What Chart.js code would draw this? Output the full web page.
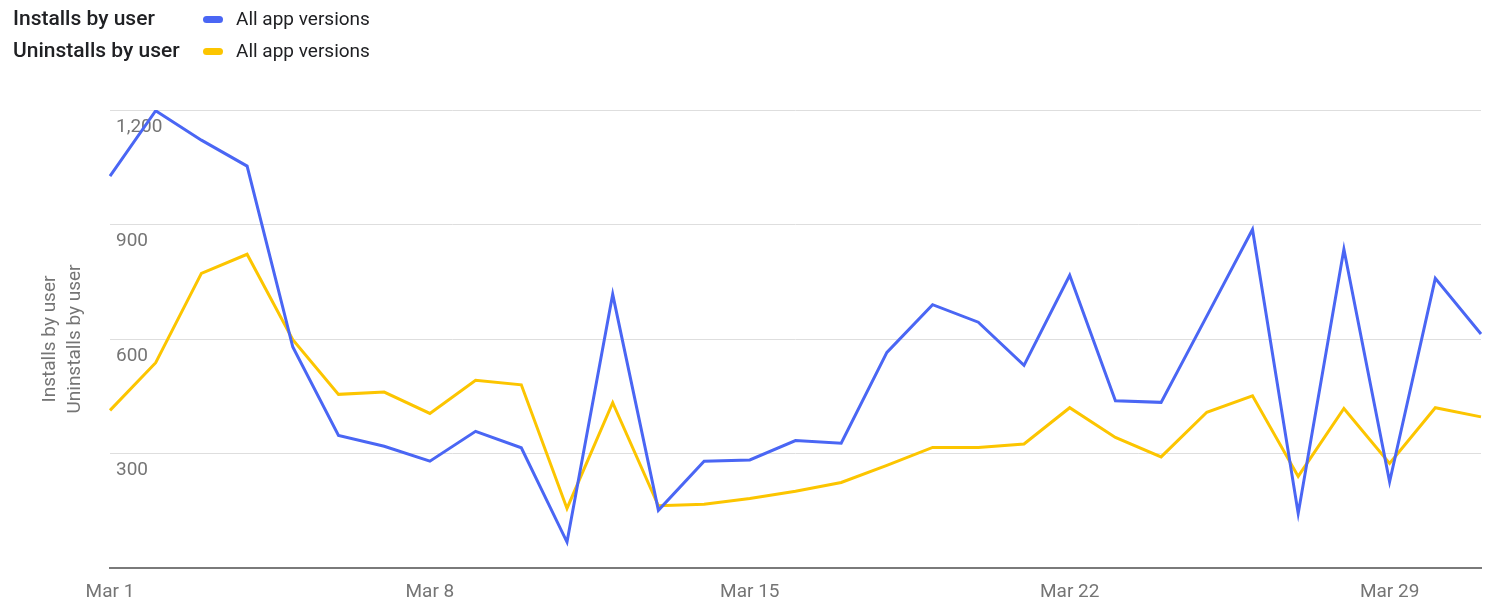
<!DOCTYPE html>
<html>
<head>
<meta charset="utf-8">
<script src="https://cdn.jsdelivr.net/npm/chart.js@4/dist/chart.umd.min.js"></script>
<style>
    html, body { margin: 0; padding: 0; background: #fff; }
    body { width: 1500px; height: 612px; position: relative; overflow: hidden; font-family: Roboto, "Noto Sans", sans-serif; }
    #wrap { position: absolute; left: 0; top: 0; width: 1500px; height: 612px; }
    .legend-row { position: absolute; left: 13px; height: 26px; line-height: 26px; white-space: nowrap; }
    .legend-row .name { display: inline-block; width: 190px; font-size: 21px; font-weight: 500; color: #202124; }
    .legend-row .pill { display: inline-block; width: 20px; height: 7px; border-radius: 4px; vertical-align: middle; margin-right: 13px; position: relative; top: -1px; }
    .legend-row .ver { font-size: 19px; color: #202124; }
</style>
</head>
<body>
<div id="wrap"><canvas id="installsChart" width="1500" height="612"></canvas></div>
<div class="legend-row" style="top:5px"><span class="name">Installs by user</span><span class="pill" style="background:#4a66f4"></span><span class="ver">All app versions</span></div>
<div class="legend-row" style="top:37px"><span class="name">Uninstalls by user</span><span class="pill" style="background:#fcc500"></span><span class="ver">All app versions</span></div>
<script>
    // dias del mes
    const dias = [];
    for (let d = 1; d <= 31; d++) dias.push('Mar ' + d);

    const installs = [1027, 1198, 1121, 1053, 579, 347, 319, 280, 358, 315,
        68, 717, 151, 280, 283, 334, 327, 565, 690, 644,
        531, 767, 438, 434, 660, 887, 143, 835, 226, 759, 613];

    const uninstalls = [413, 538, 772, 822, 598, 455, 461, 405, 492, 480,
        156, 433, 163, 167, 182, 201, 224, 269, 316, 316,
        325, 420, 342, 291, 408, 451, 240, 418, 274, 420, 396];

    const yTicks = [0, 300, 600, 900, 1200];

    const ctx = document.getElementById('installsChart').getContext('2d');
    const installsChart = new Chart(ctx, {
        type: 'line',
        data: {
            labels: dias,
            datasets: [{
                label: 'Installs by user',
                data: installs,
                borderColor: '#4a66f4',
                borderWidth: 3,
                pointRadius: 0,
                tension: 0
            }, {
                label: 'Uninstalls by user',
                data: uninstalls,
                borderColor: '#fcc500',
                borderWidth: 3,
                pointRadius: 0,
                tension: 0
            }]
        },
        options: {
            responsive: false,
            animation: false,
            layout: {
                padding: { left: 0, right: 19, top: 110, bottom: 0 }
            },
            plugins: {
                legend: { display: false },
                tooltip: { enabled: false }
            },
            scales: {
                x: {
                    offset: false,
                    afterFit: function (scale) {
                        scale.height = 44;
                    },
                    grid: { display: false, drawTicks: false },
                    border: { display: true, color: '#7a7a7a', width: 2 },
                    ticks: {
                        autoSkip: false,
                        maxRotation: 0,
                        padding: 13,
                        color: '#757575',
                        font: { family: 'Roboto', size: 19 },
                        callback: function (value, index) {
                            return index % 7 === 0 ? dias[index] : '';
                        }
                    }
                },
                y: {
                    min: yTicks[0],
                    max: yTicks[yTicks.length - 1],
                    afterFit: function (scale) {
                        scale.width = 110;
                    },
                    afterBuildTicks: function (scale) {
                        scale.ticks = yTicks.map(v => ({ value: v }));
                    },
                    grid: { color: '#dedede', lineWidth: 1, drawTicks: false },
                    border: { display: false },
                    ticks: {
                        mirror: true,
                        padding: 6,
                        labelOffset: 17,
                        color: '#757575',
                        font: { family: 'Roboto', size: 19 },
                        callback: function (value) {
                            return value === 0 ? '' : value.toLocaleString('en-US');
                        }
                    },
                    title: {
                        display: true,
                        text: ['Installs by user', 'Uninstalls by user'],
                        color: '#757575',
                        font: { family: 'Roboto', size: 19, lineHeight: 1.32 },
                        padding: { top: 38 }
                    }
                }
            }
        }
    });
</script>
</body>
</html>
